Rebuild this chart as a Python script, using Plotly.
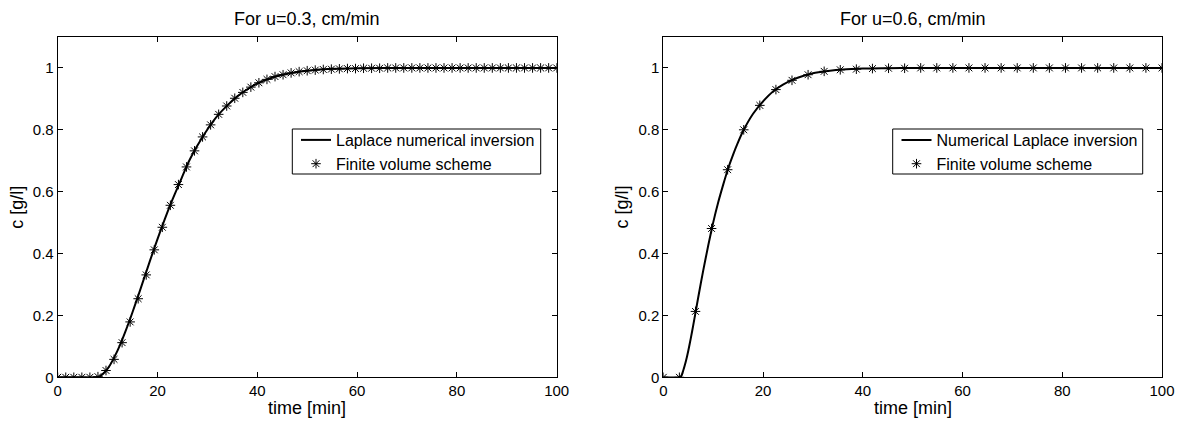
import plotly.graph_objects as go

# ---- data: u = 0.3 cm/min ----
t_fv_a = [i * 100 / 62 for i in range(63)]
c_fv_a = [0, 0, 0, 0, 0, 0.002, 0.022, 0.058, 0.112, 0.179, 0.254, 0.331, 0.412,
          0.485, 0.556, 0.623, 0.680, 0.732, 0.777, 0.816, 0.850, 0.877, 0.902,
          0.921, 0.938, 0.952, 0.963, 0.972, 0.978, 0.984, 0.988, 0.991, 0.993,
          0.995, 0.996, 0.997, 0.998, 0.998, 0.999, 0.999, 0.999, 1, 1, 1, 1, 1,
          1, 1, 1, 1, 1, 1, 1, 1, 1, 1, 1, 1, 1, 1, 1, 1, 1]
t_lap_a = [0, 4, 7.5, 8.5, 9.5, 10.5, 11.5, 12.5, 13.5, 14.5, 15.5, 16.5, 17.5,
           18.5, 19.5, 20.5, 21.5, 22.5, 23.5, 24.5, 25.5, 26.5, 28, 30, 32, 34,
           36, 38, 40, 42, 44, 46, 48, 50, 55, 60, 70, 80, 90, 100]
c_lap_a = [0, 0, 0, 0.004, 0.018, 0.040, 0.070, 0.105, 0.145, 0.188, 0.234, 0.281,
           0.329, 0.377, 0.424, 0.469, 0.513, 0.555, 0.594, 0.631, 0.670, 0.705,
           0.749, 0.801, 0.845, 0.879, 0.908, 0.931, 0.950, 0.963, 0.974, 0.981,
           0.987, 0.991, 0.997, 0.999, 1, 1, 1, 1]

# ---- data: u = 0.6 cm/min ----
t_fv_b = [i * 100 / 31 for i in range(32)]
c_fv_b = [0, 0, 0.213, 0.481, 0.671, 0.800, 0.879, 0.930, 0.960, 0.978, 0.989,
          0.994, 0.996, 0.998, 0.999, 0.999, 1, 1, 1, 1, 1, 1, 1, 1, 1, 1, 1, 1,
          1, 1, 1, 1]
t_lap_b = [0, 3.2, 3.6, 4, 4.5, 5, 5.5, 6, 6.5, 7, 8, 9, 10, 11, 12, 13, 14, 15, 16,
           18, 20, 22, 24, 26, 28, 30, 33, 36, 40, 45, 50, 60, 70, 80, 90, 100]
c_lap_b = [0, 0, 0.004, 0.022, 0.05, 0.085, 0.125, 0.168, 0.213, 0.258, 0.345,
           0.425, 0.500, 0.565, 0.622, 0.675, 0.720, 0.760, 0.796, 0.852, 0.892,
           0.924, 0.946, 0.962, 0.974, 0.983, 0.990, 0.995, 0.998, 0.999, 1, 1, 1,
           1, 1, 1]

titles = ["For u=0.3, cm/min", "For u=0.6, cm/min"]
line_names = ["Laplace numerical inversion", "Numerical Laplace inversion"]
marker_name = "Finite volume scheme"
x_ticks = [0, 20, 40, 60, 80, 100]
y_ticks = [0, 0.2, 0.4, 0.6, 0.8, 1]
y_tick_text = ["0", "0.2", "0.4", "0.6", "0.8", "1"]

W, H = 1180, 421
FONT = "Liberation Sans, Arial, Helvetica, sans-serif"

# plot-area pixel boxes (left, right) and common top/bottom
panels_px = [(57.7, 556.7), (663.3, 1162.0)]
top_px, bot_px = 37.0, 377.3
# legend frames (left, top, right, bottom) and where the entries start
legend_box_px = [(292.3, 129.0, 540.7, 174.0), (892.7, 129.0, 1142.7, 174.0)]
legend_item_left_px = [296.0, 896.5]
legend_item_top_px = 123.0

fig = go.Figure()
series = [(t_lap_a, c_lap_a, t_fv_a, c_fv_a), (t_lap_b, c_lap_b, t_fv_b, c_fv_b)]

for k, (tl, cl, tf, cf) in enumerate(series):
    ax = "" if k == 0 else "2"
    leg = "legend" if k == 0 else "legend2"
    fig.add_trace(go.Scatter(
        x=tl, y=cl, mode="lines", name=line_names[k],
        line=dict(color="black", width=2, shape="spline", smoothing=0.6),
        xaxis="x" + ax, yaxis="y" + ax, legend=leg))
    fig.add_trace(go.Scatter(
        x=tf, y=cf, mode="markers", name=marker_name,
        marker=dict(symbol="asterisk-open", size=8, color="black",
                    line=dict(color="black", width=1)),
        xaxis="x" + ax, yaxis="y" + ax, legend=leg))

axis_common = dict(
    showgrid=False, zeroline=False, showline=True, linecolor="black", linewidth=1,
    mirror="allticks", ticks="inside", ticklen=5, tickcolor="black", automargin=False,
    tickfont=dict(family=FONT, size=15, color="black"), fixedrange=True,
)

ydom = [1 - bot_px / H, 1 - top_px / H]
layout = dict(
    template="none",
    width=W, height=H, margin=dict(l=0, r=0, t=0, b=0, autoexpand=False),
    paper_bgcolor="white", plot_bgcolor="white",
    font=dict(family=FONT, size=16, color="black"),
    annotations=[], shapes=[],
    showlegend=True,
)
for k, (l, r) in enumerate(panels_px):
    ax = "" if k == 0 else "2"
    layout["xaxis" + ax] = dict(axis_common, domain=[l / W, r / W], range=[0, 100],
                                tickvals=x_ticks, anchor="y" + ax)
    layout["yaxis" + ax] = dict(axis_common, domain=ydom, range=[0, 1.1],
                                tickvals=y_ticks, ticktext=y_tick_text,
                                anchor="x" + ax)
    cx = (l + r) / 2 / W
    layout["annotations"] += [
        dict(text=titles[k], x=cx, y=1 - 19 / H, xref="paper", yref="paper",
             xanchor="center", yanchor="middle", showarrow=False,
             font=dict(size=18)),
        dict(text="time [min]", x=cx, y=1 - 408 / H, xref="paper", yref="paper",
             xanchor="center", yanchor="middle", showarrow=False,
             font=dict(size=18)),
        dict(text="c [g/l]", x=(l - 41) / W, y=(ydom[0] + ydom[1]) / 2,
             xref="paper", yref="paper", textangle=-90, xanchor="center",
             yanchor="middle", showarrow=False, font=dict(size=18)),
    ]
    bx0, by0, bx1, by1 = legend_box_px[k]
    layout["shapes"].append(dict(
        type="rect", xref="paper", yref="paper", layer="above",
        x0=bx0 / W, x1=bx1 / W, y0=1 - by1 / H, y1=1 - by0 / H,
        line=dict(color="black", width=1), fillcolor="white"))
    layout["legend" if k == 0 else "legend2"] = dict(
        x=legend_item_left_px[k] / W, y=1 - legend_item_top_px / H,
        xanchor="left", yanchor="top", bgcolor="rgba(0,0,0,0)",
        borderwidth=0, font=dict(size=16), tracegroupgap=0, itemwidth=30)

fig.update_layout(**layout)
fig.write_html("out.html")
